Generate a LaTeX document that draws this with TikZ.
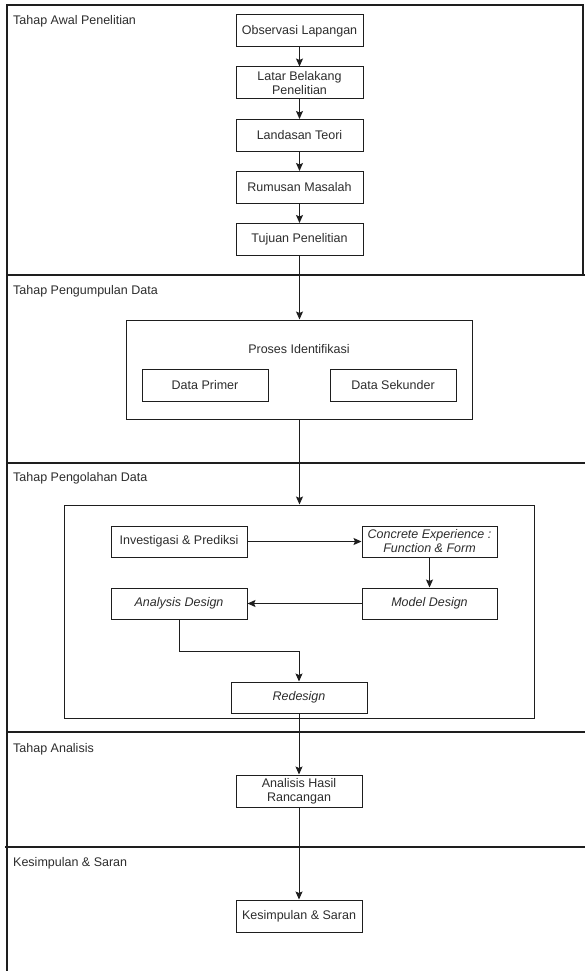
\documentclass[tikz,border=0pt]{standalone}
\usepackage{fontspec}
\setmainfont{Liberation Sans}
\usetikzlibrary{arrows.meta,positioning,calc}
\definecolor{txt}{RGB}{45,45,45}
\definecolor{ln}{RGB}{30,30,30}
\tikzset{
  box/.style={draw=ln,line width=1pt,fill=white,inner sep=0pt,align=center,
    text=txt,font=\fontsize{12.5}{14}\selectfont},
  itbox/.style={box,font=\fontsize{12.5}{14}\selectfont\itshape},
  lanelbl/.style={anchor=west,inner sep=0pt,text=txt,font=\fontsize{12.5}{14}\selectfont},
  lane/.style={draw=ln,line width=1.1pt},
  arr/.style={draw=ln,line width=1pt,-{Stealth[length=8pt,width=7pt,inset=1.5pt]}},
  plain/.style={draw=ln,line width=1pt}
}
\begin{document}
\begin{tikzpicture}[x=1pt,y=-1pt]
\useasboundingbox (0,0) rectangle (585,971);
\fill[white] (0,0) rectangle (585,971);
% lanes
\draw[lane] (7,971) -- (7,5) -- (583,5) -- (583,275);
\draw[lane] (7,275) -- (585,275);
\draw[lane] (7,463) -- (585,463);
\draw[lane] (7,732) -- (585,732);
\draw[lane] (5,847) -- (585,847);
\node[lanelbl] (l1) at (13,21) {Tahap Awal Penelitian};
\node[lanelbl] (l2) at (13,291) {Tahap Pengumpulan Data};
\node[lanelbl] (l3) at (13,478) {Tahap Pengolahan Data};
\node[lanelbl] (l4) at (13,749) {Tahap Analisis};
\node[lanelbl] (l5) at (13,863) {Kesimpulan \& Saran};
% lane 1
\node[box,minimum width=127pt,minimum height=32pt] (obs) at (299.5,31) {Observasi Lapangan};
\node[box,minimum width=127pt,minimum height=32pt] (lat) at (299.5,83) {Latar Belakang\\Penelitian};
\node[box,minimum width=127pt,minimum height=32pt] (lan) at (299.5,135.5) {Landasan Teori};
\node[box,minimum width=127pt,minimum height=32pt] (rum) at (299.5,187.5) {Rumusan Masalah};
\node[box,minimum width=127pt,minimum height=32pt] (tuj) at (299.5,239.5) {Tujuan Penelitian};
\draw[arr] (obs) -- (lat);
\draw[arr] (lat) -- (lan);
\draw[arr] (lan) -- (rum);
\draw[arr] (rum) -- (tuj);
% lane 2
\node[box,minimum width=346pt,minimum height=99pt] (pro) at (299,369.5) {};
\node[inner sep=0pt,text=txt,font=\fontsize{12.5}{14}\selectfont] (prolbl) at (299,349) {Proses Identifikasi};
\node[box,minimum width=126pt,minimum height=32pt] (dp) at (205,385) {Data Primer};
\node[box,minimum width=126pt,minimum height=32pt] (ds) at (393,385) {Data Sekunder};
\draw[arr] (tuj.south) -- (tuj.south |- pro.north);
% lane 3
\node[box,minimum width=470pt,minimum height=213pt] (olah) at (299,611.5) {};
\draw[arr] (pro.south -| tuj.south) -- (tuj.south |- olah.north);
\node[box,minimum width=136pt,minimum height=31pt] (inv) at (179,541.5) {Investigasi \& Prediksi};
\node[itbox,minimum width=135pt,minimum height=31pt] (con) at (429.5,541.5) {Concrete Experience :\\Function \& Form};
\node[itbox,minimum width=136pt,minimum height=31pt] (ana) at (179,603.5) {Analysis Design};
\node[itbox,minimum width=135pt,minimum height=31pt] (mod) at (429.5,603.5) {Model Design};
\node[itbox,minimum width=136pt,minimum height=31pt] (red) at (299,697.5) {Redesign};
\draw[arr] (inv) -- (con);
\draw[arr] (con) -- (mod);
\draw[arr] (mod) -- (ana);
\coordinate (elb) at (179,651);
\draw[arr] (ana.south) -- (elb) -- (elb -| red.north) -- (red.north);
% lane 4 and 5
\node[box,minimum width=126pt,minimum height=32pt] (has) at (299,791) {Analisis Hasil\\Rancangan};
\node[box,minimum width=126pt,minimum height=32pt] (kes) at (299,916) {Kesimpulan \& Saran};
\draw[arr] (red) -- (has);
\draw[arr] (has) -- (kes);
\end{tikzpicture}
\end{document}
